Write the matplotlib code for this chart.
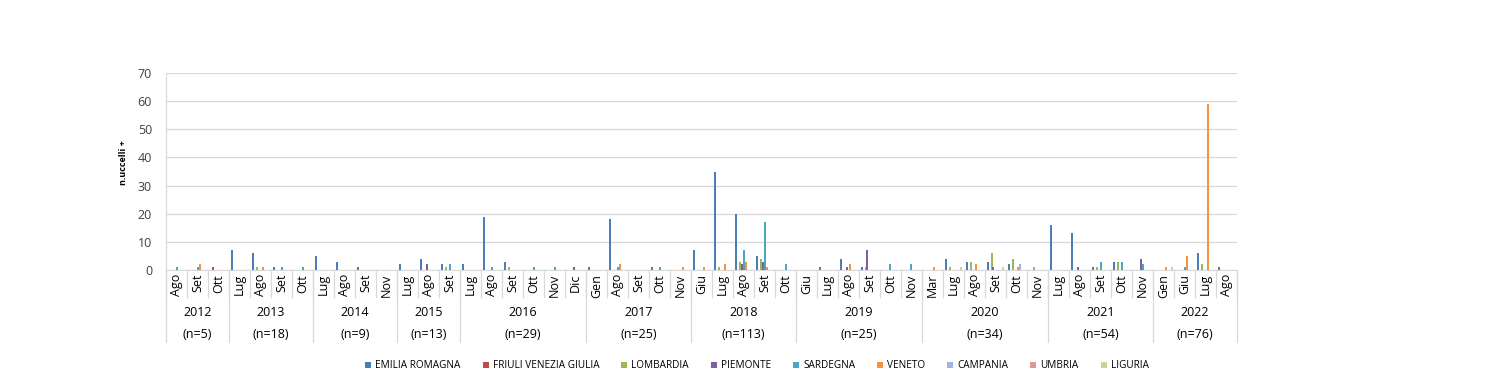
import matplotlib
matplotlib.use("Agg")
import matplotlib.pyplot as plt
from matplotlib.patches import Patch
import numpy as np

plt.rcParams['font.family'] = ['Open Sans', 'DejaVu Sans']

years = ["2012", "2013", "2014", "2015", "2016", "2017", "2018", "2019", "2020", "2021", "2022"]
year_n = ["(n=5)", "(n=18)", "(n=9)", "(n=13)", "(n=29)", "(n=25)", "(n=113)", "(n=25)", "(n=34)", "(n=54)", "(n=76)"]
months = [
    ["Ago", "Set", "Ott"],
    ["Lug", "Ago", "Set", "Ott"],
    ["Lug", "Ago", "Set", "Nov"],
    ["Lug", "Ago", "Set"],
    ["Lug", "Ago", "Set", "Ott", "Nov", "Dic"],
    ["Gen", "Ago", "Set", "Ott", "Nov"],
    ["Giu", "Lug", "Ago", "Set", "Ott"],
    ["Giu", "Lug", "Ago", "Set", "Ott", "Nov"],
    ["Mar", "Lug", "Ago", "Set", "Ott", "Nov"],
    ["Lug", "Ago", "Set", "Ott", "Nov"],
    ["Gen", "Giu", "Lug", "Ago"],
]

series_names = ["EMILIA ROMAGNA", "FRIULI VENEZIA GIULIA", "LOMBARDIA", "PIEMONTE",
                "SARDEGNA", "VENETO", "CAMPANIA", "UMBRIA", "LIGURIA"]

#                2012      2013        2014        2015     2016                2017             2018              2019                 2020                2021              2022
emilia    = [0, 0, 0,  7, 6, 1, 0,  5, 3, 1, 0,  2, 4, 2,  2, 19, 3, 0, 0, 0,  1, 18, 0, 1, 0,  7, 35, 20, 5, 0,  0, 1, 4, 1, 0, 0,  0, 4, 3, 3, 2, 0,  16, 13, 1, 3, 0,  0, 0, 6, 1]
friuli    = [0, 0, 1,  0, 0, 0, 0,  0, 0, 0, 0,  0, 0, 0,  0, 0, 0, 0, 0, 0,   0, 0, 0, 0, 0,   0, 0, 0, 0, 0,    0, 0, 0, 0, 0, 0,  0, 0, 0, 0, 0, 0,  0, 0, 0, 0, 0,    0, 0, 0, 0]
lombardia = [0, 0, 0,  0, 1, 0, 0,  0, 0, 0, 0,  0, 0, 1,  0, 0, 1, 0, 0, 0,   0, 0, 0, 0, 0,   0, 1, 3, 4, 0,    0, 0, 0, 1, 0, 0,  0, 1, 3, 6, 4, 1,  0, 0, 1, 3, 0,    0, 0, 2, 0]
piemonte  = [0, 0, 0,  0, 0, 0, 0,  0, 0, 0, 0,  0, 2, 0,  0, 0, 0, 0, 0, 1,   0, 0, 0, 0, 0,   0, 0, 2, 3, 0,    0, 0, 1, 7, 0, 0,  0, 0, 0, 1, 0, 0,  0, 1, 0, 0, 4,    0, 0, 0, 0]
sardegna  = [1, 1, 0,  0, 0, 1, 1,  0, 0, 0, 0,  0, 0, 2,  0, 1, 0, 1, 1, 0,   0, 1, 0, 1, 0,   0, 0, 7, 17, 2,   0, 0, 0, 0, 2, 2,  0, 0, 0, 0, 0, 0,  0, 0, 3, 3, 2,    0, 1, 0, 0]
veneto    = [0, 2, 0,  0, 1, 0, 0,  0, 0, 0, 0,  0, 0, 0,  0, 0, 0, 0, 0, 0,   0, 2, 0, 0, 1,   1, 2, 3, 1, 0,    0, 0, 2, 0, 0, 0,  1, 0, 2, 0, 1, 0,  0, 0, 0, 0, 0,    1, 5, 59, 0]
campania  = [0, 0, 0,  0, 0, 0, 0,  0, 0, 0, 0,  0, 0, 0,  0, 0, 0, 0, 0, 0,   0, 0, 0, 0, 0,   0, 0, 0, 0, 0,    0, 0, 0, 0, 0, 0,  0, 0, 0, 0, 2, 0,  0, 0, 0, 0, 0,    0, 0, 0, 0]
umbria    = [0, 0, 0,  0, 0, 0, 0,  0, 0, 0, 0,  0, 0, 0,  0, 0, 0, 0, 0, 0,   0, 0, 0, 0, 0,   0, 0, 0, 0, 0,    0, 0, 0, 0, 0, 0,  0, 0, 0, 0, 0, 0,  0, 0, 0, 0, 0,    0, 0, 0, 0]
liguria   = [0, 0, 0,  0, 0, 0, 0,  0, 0, 0, 0,  0, 0, 0,  0, 0, 0, 0, 0, 0,   0, 0, 0, 0, 0,   0, 0, 0, 0, 0,    0, 0, 0, 0, 0, 0,  0, 1, 0, 1, 0, 0,  0, 0, 0, 0, 0,    1, 0, 0, 0]

series = [emilia, friuli, lombardia, piemonte, sardegna, veneto, campania, umbria, liguria]
colors = ["#4A7EBB", "#BE4B48", "#98B954", "#7D60A0", "#46AAC5", "#F69240",
          "#9DB4E0", "#E0979A", "#C4D79B"]

month_labels = [m for grp in months for m in grp]
n_cat = len(month_labels)
x = np.arange(n_cat)

fig = plt.figure(figsize=(15.10, 3.77), dpi=100)
ax = fig.add_axes([166/1510, 1-270/377, 1071/1510, 197/377])

bw = 2/21
for k, (vals, col) in enumerate(zip(series, colors)):
    off = -0.5 + (2.5 + 2*k)/21
    ax.bar(x + off, vals, width=bw, color=col, linewidth=0, zorder=3)

ax.set_xlim(-0.5, n_cat - 0.5)
ax.set_ylim(0, 70)
ax.set_yticks(range(0, 71, 10))
ax.tick_params(axis='y', length=0, labelsize=9, pad=10, colors="#404040")
ax.set_xticks([])
ax.grid(axis='y', color="#D9D9D9", linewidth=0.9, zorder=0)
for s in ["top", "right"]:
    ax.spines[s].set_visible(False)
ax.spines["left"].set_color("#D9D9D9")
ax.spines["bottom"].set_color("#D9D9D9")
ax.set_ylabel("n.uccelli +", fontsize=6.5, fontweight='bold')
ax.yaxis.set_label_coords(-0.0355, 0.545)

trans = ax.get_xaxis_transform()
sep_col = "#D9D9D9"
for i, lab in enumerate(month_labels):
    ax.text(i, -0.02, lab, rotation=90, ha='center', va='top', fontsize=9,
            transform=trans, color="#000000")
for i in range(n_cat + 1):
    ax.plot([i - 0.5, i - 0.5], [0, -0.137], transform=trans, color=sep_col,
            linewidth=0.9, clip_on=False)
start = 0
for yr, nn, grp in zip(years, year_n, months):
    end = start + len(grp)
    c = (start + end - 1) / 2
    ax.text(c, -0.215, yr, ha='center', va='center', fontsize=9, transform=trans)
    ax.text(c, -0.325, nn, ha='center', va='center', fontsize=9, transform=trans)
    ax.plot([start - 0.5, start - 0.5], [0, -0.365], transform=trans, color=sep_col,
            linewidth=0.9, clip_on=False)
    start = end
ax.plot([n_cat - 0.5, n_cat - 0.5], [0, -0.365], transform=trans, color=sep_col,
        linewidth=0.9, clip_on=False)

handles = [Patch(facecolor=c, edgecolor='none', label=n) for n, c in zip(series_names, colors)]
fig.legend(handles=handles, loc='center', bbox_to_anchor=(757/1510, 1-366/377), ncol=9,
           frameon=False, fontsize=7.2, handlelength=0.6, handleheight=0.6,
           handletextpad=0.4, columnspacing=2.2)

fig.savefig("out.png", dpi=100)
